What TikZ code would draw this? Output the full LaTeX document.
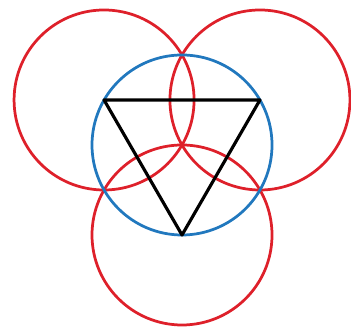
\documentclass[tikz,border=0pt]{standalone}
\usepackage{xcolor}
\usepackage{tikz}
\usetikzlibrary{calc}
\definecolor{ringred}{RGB}{222, 32, 42}
\definecolor{ringblue}{RGB}{33, 120, 190}

\begin{document}
\begin{tikzpicture}[x=1cm, y=1cm]
    \useasboundingbox (-6.067, -6.233) rectangle (5.633, 4.833);
    \tikzset{ring/.style={line width=2.6pt}}
    % Centre and triangle corners
    \coordinate (O) at (0, 0);
    \coordinate (TL) at (150:3);
    \coordinate (TR) at (30:3);
    \coordinate (BT) at (270:3);

    % Outer circles round each corner
    \draw[ring, ringred] (TL) circle (3);
    \draw[ring, ringred] (TR) circle (3);
    \draw[ring, ringred] (BT) circle (3);

    % Circumcircle
    \draw[ring, ringblue] (O) circle (3);

    % Triangle
    \draw[line width=3pt, black, line join=round] (TL) -- (TR) -- (BT) -- cycle;
\end{tikzpicture}
\end{document}
